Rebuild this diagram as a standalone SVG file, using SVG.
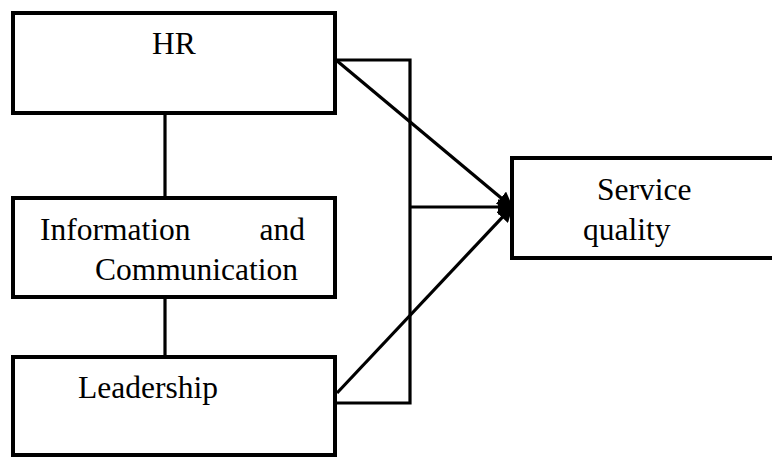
<svg xmlns="http://www.w3.org/2000/svg" width="772" height="457" viewBox="0 0 772 457">
<style>
.box{fill:#fff;stroke:#000;stroke-width:4}
.t{font-family:"Liberation Serif","Times New Roman",serif;font-size:31.5px;fill:#000}
.c{fill:none;stroke:#000;stroke-width:3.2}
</style>
<defs>
<marker id="ah" viewBox="0 0 10 10" refX="9" refY="5" markerWidth="5" markerHeight="5" orient="auto" markerUnits="strokeWidth">
<path d="M0,0 L10,5 L0,10 z" fill="#000"/>
</marker>
</defs>
<rect width="772" height="457" fill="#fff"/>
<g id="connectors">
<line class="c" x1="165" y1="113" x2="165" y2="198"/>
<line class="c" x1="165" y1="297" x2="165" y2="357"/>
<polyline class="c" points="336,60 410,60 410,403 337,403"/>
<line class="c" x1="336" y1="60" x2="512" y2="207" marker-end="url(#ah)"/>
<line class="c" x1="410" y1="207" x2="512" y2="207" marker-end="url(#ah)"/>
<line class="c" x1="337" y1="393" x2="512" y2="207" marker-end="url(#ah)"/>
</g>
<g id="hr">
<rect class="box" x="13" y="13" width="322" height="100"/>
<text class="t" x="152" y="54">HR</text>
</g>
<g id="info">
<rect class="box" x="13" y="198" width="322" height="99"/>
<text class="t" x="40" y="240">Information</text>
<text class="t" x="305" y="240" text-anchor="end">and</text>
<text class="t" x="95" y="280">Communication</text>
</g>
<g id="leadership">
<rect class="box" x="13" y="357" width="322" height="98"/>
<text class="t" x="78" y="398">Leadership</text>
</g>
<g id="service">
<rect class="box" x="512" y="158" width="264" height="100"/>
<text class="t" x="597" y="200">Service</text>
<text class="t" x="583" y="240">quality</text>
</g>
</svg>
